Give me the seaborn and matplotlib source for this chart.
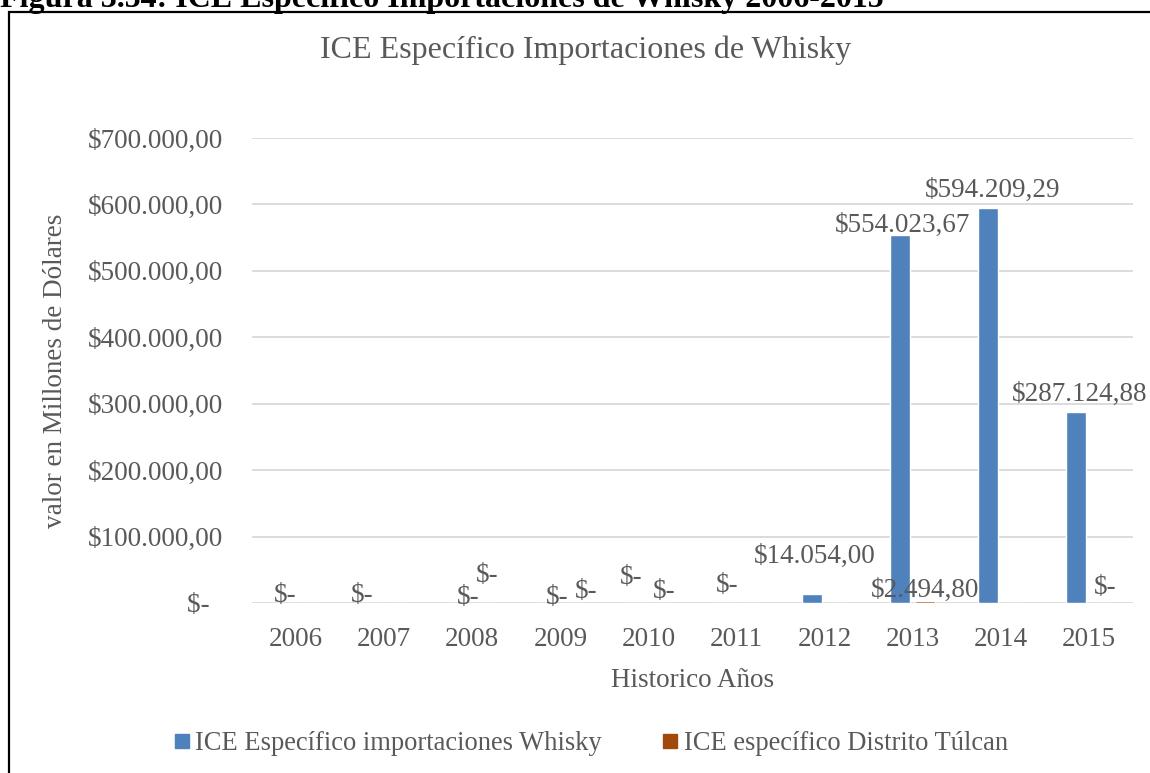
import matplotlib
matplotlib.use("Agg")
import matplotlib.pyplot as plt
import seaborn as sns
import pandas as pd
from matplotlib.lines import Line2D
from matplotlib.patches import Rectangle

years = ["2006", "2007", "2008", "2009", "2010", "2011", "2012", "2013", "2014", "2015"]
serie_names = ["ICE Específico importaciones Whisky", "ICE específico Distrito Túlcan"]
whisky = [0, 0, 0, 0, 0, 0, 14054.00, 554023.67, 594209.29, 287124.88]
tulcan = [0, 0, 0, 0, 0, 0, 0, 2494.80, 0, 0]
yticks = [0, 100000, 200000, 300000, 400000, 500000, 600000, 700000]

title = "ICE Específico Importaciones de Whisky"
caption = "Figura 3.54: ICE Específico Importaciones de Whisky 2006-2015"
xlabel = "Historico Años"
ylabel = "valor en Millones de Dólares"

colors = ["#4F81BD", "#A0490B"]
text_color = "#595959"

# label offsets in pixels (dx, dy) relative to bar top; None = label not shown
whisky_lbl = [(2, 8), (-9, 8), (8, 6), (9, 6), (-5, 25), (3, 18), (3, 37), (2, 10), (4, 18), (3, 18)]
tulcan_lbl = [None, None, (2, 28), (13, 11), (3, 11), None, None, (0, 11), None, (4, 15)]

sns.set_theme(style="white")
plt.rcParams["font.family"] = ["Liberation Serif", "DejaVu Serif"]

df = pd.DataFrame({
    "year": years * 2,
    "value": whisky + tulcan,
    "serie": [serie_names[0]] * len(years) + [serie_names[1]] * len(years),
})

def fmt(v):
    if v == 0:
        return "$-"
    s = f"{v:,.2f}"
    s = s.replace(",", "X").replace(".", ",").replace("X", ".")
    return "$" + s

W, H = 1150, 773
fig = plt.figure(figsize=(W / 100, H / 100), dpi=100)
ax = fig.add_axes([252 / W, 1 - 603 / H, 881 / W, 465 / H])

sns.barplot(data=df, x="year", y="value", hue="serie", hue_order=serie_names,
            palette=colors, width=0.57, gap=0.2, errorbar=None, legend=False,
            saturation=1, ax=ax)

ax.set_ylim(0, 700000)
ax.set_yticks(yticks)
ax.set_yticklabels([fmt(v) if v else "$-  " for v in yticks], fontsize=19.5, color=text_color)
ax.tick_params(axis="y", length=0, pad=21)
ax.tick_params(axis="x", length=0, pad=17, labelsize=19.5, labelcolor=text_color)
ax.grid(axis="y", color="#D9D9D9", linewidth=1.3)
ax.set_axisbelow(True)
for sp in ax.spines.values():
    sp.set_visible(False)

ax.set_xlabel(xlabel, fontsize=19.5, color=text_color, labelpad=12)
ax.set_ylabel(ylabel, fontsize=19.5, color=text_color, labelpad=14)

for cont, vals, offs in zip(ax.containers, [whisky, tulcan], [whisky_lbl, tulcan_lbl]):
    for bar, v, off in zip(cont, vals, offs):
        if off is None:
            continue
        x = bar.get_x() + bar.get_width() / 2
        ax.annotate(fmt(v), xy=(x, v), xytext=off, textcoords="offset pixels",
                    ha="center", va="center", fontsize=19.5, color=text_color,
                    annotation_clip=False)

fig.text(586 / W, 1 - 50 / H, title, ha="center", va="center", fontsize=23, color=text_color)

handles = [Line2D([], [], marker="s", linestyle="none", markersize=10,
                  markerfacecolor=c, markeredgecolor=c) for c in colors]
fig.legend(handles, serie_names, loc="center", bbox_to_anchor=(590 / W, 1 - 744 / H),
           ncol=2, frameon=False, fontsize=19.1, labelcolor=text_color,
           handlelength=0.7, handletextpad=0.15, columnspacing=2.25)

# chart border
fig.patches.append(Rectangle((9 / W, -0.05), 1.1, 1 - 12 / H + 0.05, transform=fig.transFigure,
                             fill=False, edgecolor="black", linewidth=1.6))

fig.text(0, 1 - 7 / H, caption, ha="left", va="baseline", fontsize=23,
         fontweight="bold", color="black")

fig.savefig("out.png", dpi=100)
